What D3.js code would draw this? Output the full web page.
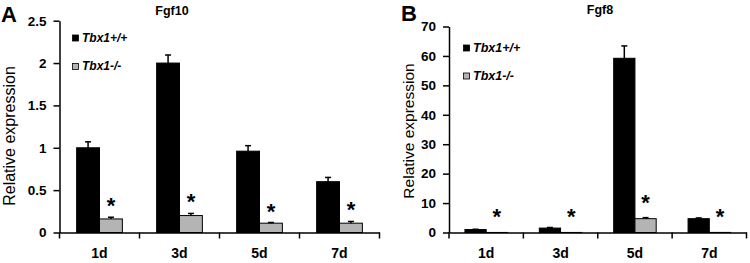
<!DOCTYPE html>
<html>
<head>
<meta charset="utf-8">
<script src="https://cdn.jsdelivr.net/npm/d3@7/dist/d3.min.js"></script>
<style>
  html, body { margin: 0; padding: 0; background: #fff; }
  svg { display: block; }
  text { font-family: Arial, "Liberation Sans", Helvetica, sans-serif; fill: #000; }
</style>
</head>
<body>
<svg id="chart" width="750" height="263"></svg>
<script>
// ---- data ----
const categories = ["1d", "3d", "5d", "7d"];
const groups = ["Tbx1+/+", "Tbx1-/-"];

// Fgf10 (panel A)
const fgf10WT    = [1.00, 2.00, 0.96, 0.60];
const fgf10WTErr = [0.07, 0.095, 0.065, 0.05];
const fgf10KO    = [0.16, 0.20, 0.11, 0.11];
const fgf10KOErr = [0.02, 0.025, 0.008, 0.02];
const fgf10Ticks = [0, 0.5, 1, 1.5, 2, 2.5];
const fgf10TickLabels = ["0", "0.5", "1", "1.5", "2", "2.5"];

// Fgf8 (panel B)
const fgf8WT    = [1.0, 1.5, 59.2, 4.7];
const fgf8WTErr = [0.1, 0.2, 4.2, 0.25];
const fgf8KO    = [0.02, 0.02, 4.7, 0.03];
const fgf8KOErr = [0, 0, 0.35, 0];
const fgf8Ticks = [0, 10, 20, 30, 40, 50, 60, 70];
const fgf8TickLabels = ["0", "10", "20", "30", "40", "50", "60", "70"];

const significant = [true, true, true, true]; // asterisks over Tbx1-/- bars

const colors = { "Tbx1+/+": "#000000", "Tbx1-/-": "#b4b4b4" };

const svg = d3.select("#chart");

function drawPanel(cfg) {
  const g = svg.append("g");
  const y = d3.scaleLinear().domain([0, cfg.yMax]).range([cfg.y0, cfg.yTop]);
  const x0 = d3.scaleBand().domain(categories).range([cfg.left, cfg.right]).padding(0);
  const x1 = d3.scaleBand().domain(groups).range([0, x0.bandwidth()]).paddingInner(0).paddingOuter(0.75);

  // y axis
  const yAxis = d3.axisLeft(y).tickValues(cfg.ticks)
    .tickFormat((d, i) => cfg.tickLabels[i]).tickSizeInner(6).tickSizeOuter(0).tickPadding(7);
  const ya = g.append("g").attr("transform", `translate(${cfg.left},0)`).call(yAxis);
  ya.select(".domain").attr("stroke", "#000").attr("stroke-width", 1.5);
  ya.selectAll(".tick line").attr("stroke", "#000").attr("stroke-width", 1.5);
  ya.selectAll(".tick text").attr("font-size", 13.5).attr("font-weight", "bold")
    .attr("font-family", "Arial, 'Liberation Sans', sans-serif").attr("fill", "#000");

  // x axis (labels at band centres, ticks at band boundaries)
  const xAxis = d3.axisBottom(x0).tickSize(0).tickPadding(16);
  const xa = g.append("g").attr("transform", `translate(0,${cfg.y0})`).call(xAxis);
  xa.select(".domain").attr("stroke", "#000").attr("stroke-width", 1.5);
  xa.selectAll(".tick text").attr("font-size", 14).attr("font-weight", "bold")
    .attr("font-family", "Arial, 'Liberation Sans', sans-serif").attr("fill", "#000");
  const boundaries = categories.map(c => x0(c)).concat([x0.range()[1]]);
  xa.selectAll("line.bound").data(boundaries).join("line").attr("class", "bound")
    .attr("x1", d => d).attr("x2", d => d).attr("y1", 0).attr("y2", 6)
    .attr("stroke", "#000").attr("stroke-width", 1.5);

  // bars
  const rows = categories.map((c, i) => ({
    cat: c,
    vals: [
      { grp: groups[0], v: cfg.wt[i], e: cfg.wtErr[i] },
      { grp: groups[1], v: cfg.ko[i], e: cfg.koErr[i], star: significant[i] }
    ]
  }));
  const cg = g.selectAll("g.cat").data(rows).join("g").attr("class", "cat")
    .attr("transform", d => `translate(${x0(d.cat)},0)`);
  cg.selectAll("rect").data(d => d.vals).join("rect")
    .attr("x", d => x1(d.grp)).attr("width", x1.bandwidth())
    .attr("y", d => y(d.v)).attr("height", d => Math.max(0, y(0) - y(d.v)))
    .attr("fill", d => colors[d.grp]).attr("stroke", "#000").attr("stroke-width", 1);
  // error bars
  const eb = cg.selectAll("g.err").data(d => d.vals.filter(v => v.e > 0)).join("g").attr("class", "err");
  eb.append("line")
    .attr("x1", d => x1(d.grp) + x1.bandwidth() / 2).attr("x2", d => x1(d.grp) + x1.bandwidth() / 2)
    .attr("y1", d => y(d.v)).attr("y2", d => y(d.v + d.e))
    .attr("stroke", "#000").attr("stroke-width", 1.5);
  eb.append("line")
    .attr("x1", d => x1(d.grp) + x1.bandwidth() / 2 - 3).attr("x2", d => x1(d.grp) + x1.bandwidth() / 2 + 3)
    .attr("y1", d => y(d.v + d.e)).attr("y2", d => y(d.v + d.e))
    .attr("stroke", "#000").attr("stroke-width", 1.5);
  // asterisks
  cg.selectAll("text.star").data(d => d.vals.filter(v => v.star)).join("text").attr("class", "star")
    .attr("x", d => x1(d.grp) + x1.bandwidth() / 2)
    .attr("y", d => y(d.v + d.e) - cfg.starGap + 12)
    .attr("text-anchor", "middle").attr("font-size", 22).attr("font-weight", "bold")
    .text("*");

  // legend
  const lg = g.selectAll("g.leg").data(groups).join("g").attr("class", "leg")
    .attr("transform", (d, i) => `translate(${cfg.left + cfg.legDx},${cfg.legY + i * cfg.legStep})`);
  lg.append("rect").attr("x", 0).attr("y", 0).attr("width", 6).attr("height", 6)
    .attr("fill", d => colors[d]).attr("stroke", "#000").attr("stroke-width", 0.8);
  lg.append("text").attr("x", 9.5).attr("y", 6.5).attr("font-size", cfg.legFont)
    .attr("font-weight", "bold").attr("font-style", "italic").text(d => d);

  // y label
  g.append("text").attr("transform", `translate(${cfg.ylabX},${cfg.ylabY}) rotate(-90)`)
    .attr("text-anchor", "middle").attr("font-size", cfg.ylabFont).text("Relative expression");
  // title
  g.append("text").attr("x", cfg.titleX).attr("y", cfg.titleY).attr("text-anchor", "middle")
    .attr("font-size", 12.5).attr("font-weight", "bold").text(cfg.title);
  // panel letter
  g.append("text").attr("x", cfg.letterX).attr("y", cfg.letterY)
    .attr("font-size", 22).attr("font-weight", "bold").text(cfg.letter);
}

drawPanel({
  left: 59.5, right: 379.5, y0: 232.5, yTop: 20.7, yMax: 2.5,
  ticks: fgf10Ticks, tickLabels: fgf10TickLabels,
  wt: fgf10WT, wtErr: fgf10WTErr, ko: fgf10KO, koErr: fgf10KOErr,
  starGap: 16, legDx: 13, legY: 35, legStep: 28.5, legFont: 12,
  ylabX: 15, ylabY: 136, ylabFont: 16,
  title: "Fgf10", titleX: 172, titleY: 15, letter: "A", letterX: 1, letterY: 21.5
});
drawPanel({
  left: 449, right: 746.5, y0: 232.5, yTop: 26.5, yMax: 70,
  ticks: fgf8Ticks, tickLabels: fgf8TickLabels,
  wt: fgf8WT, wtErr: fgf8WTErr, ko: fgf8KO, koErr: fgf8KOErr,
  starGap: 20, legDx: 14.5, legY: 45, legStep: 28, legFont: 12.5,
  ylabX: 414, ylabY: 131, ylabFont: 15.5,
  title: "Fgf8", titleX: 600, titleY: 14, letter: "B", letterX: 401, letterY: 21
});
</script>
</body>
</html>
